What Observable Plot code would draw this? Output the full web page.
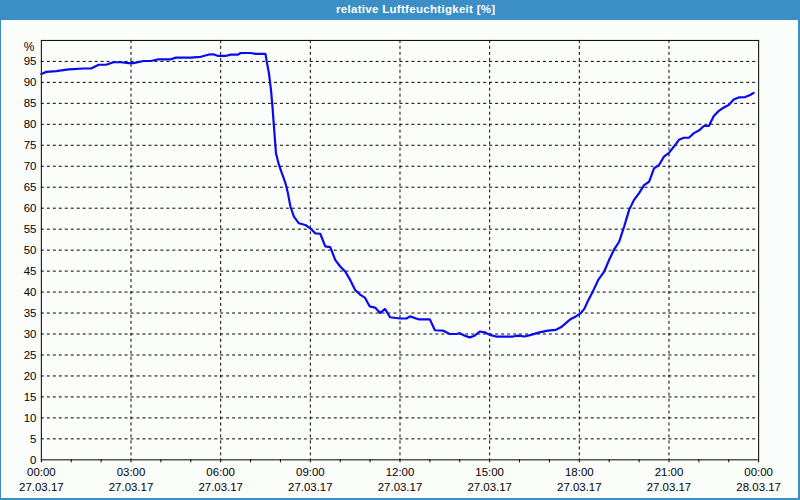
<!DOCTYPE html>
<html>
<head>
<meta charset="utf-8">
<script src="https://cdn.jsdelivr.net/npm/d3@7"></script>
<script src="https://cdn.jsdelivr.net/npm/@observablehq/plot@0.6"></script>
<style>
  html, body { margin: 0; padding: 0; background: #ffffff; }
  #wrap { position: relative; width: 800px; height: 500px; box-sizing: border-box;
          background: #fbfdfb; border-left: 1px solid #3b8fc6; border-right: 2px solid #3b8fc6; border-bottom: 2px solid #3b8fc6; overflow: hidden; }
  #title { position: absolute; left: -1px; top: 0; width: 801px; height: 20px; background: #3b8fc6; }
  #title span { position: absolute; left: 336px; top: 3px; color: #ffffff; font: bold 11.5px "Liberation Sans", Arial, sans-serif; white-space: nowrap; letter-spacing: 0.3px; }
  #chart { position: absolute; left: -1px; top: 21px; }
  svg { overflow: visible; }
</style>
</head>
<body>
<div id="wrap">
  <div id="title"><span>relative Luftfeuchtigkeit [%]</span></div>
  <div id="chart"></div>
</div>
<script>
const chartTitle = "relative Luftfeuchtigkeit [%]";
const day = "2017-03-27";
const times = ["00:00","00:10","00:30","00:55","01:25","01:40","01:55","02:10","02:25","02:40","02:55","03:05","03:25","03:40","03:55","04:20","04:30","05:00","05:20","05:35","05:45","05:55","06:10","06:20","06:35","06:40","07:00","07:10","07:30","07:32","07:37","07:41","07:44","07:47","07:49","07:51","07:57","08:03","08:10","08:15","08:20","08:27","08:37","08:50","09:00","09:10","09:20","09:30","09:40","09:50","10:00","10:10","10:20","10:30","10:40","10:50","10:59","11:10","11:20","11:30","11:40","12:00","12:13","12:20","12:37","13:00","13:10","13:27","13:40","13:54","14:00","14:10","14:20","14:30","14:40","14:50","15:00","15:13","15:47","15:57","16:10","16:23","16:40","16:57","17:13","17:23","17:33","17:43","17:53","18:03","18:10","18:17","18:27","18:38","18:50","19:00","19:10","19:20","19:30","19:40","19:50","20:00","20:10","20:20","20:30","20:40","20:50","21:00","21:10","21:20","21:30","21:40","21:50","22:00","22:10","22:20","22:30","22:40","22:50","23:00","23:10","23:20","23:33","23:43","23:50"];
const humidity = [92.0,92.5,92.7,93.1,93.3,93.3,94.2,94.2,94.8,94.8,94.6,94.6,95.1,95.1,95.5,95.5,95.9,95.9,96.1,96.6,96.7,96.3,96.3,96.6,96.6,97.0,97.0,96.8,96.8,95.3,92.1,88.2,84.2,79.4,76.3,73.1,70.3,68.3,66.0,63.6,60.4,58.0,56.4,56.0,55.2,54.0,53.9,50.9,50.7,47.7,46.1,44.9,42.9,40.5,39.4,38.6,36.6,36.3,35.0,36.0,34.0,33.7,33.7,34.2,33.5,33.5,30.9,30.8,30.0,30.0,30.2,29.6,29.2,29.6,30.6,30.4,29.8,29.4,29.4,29.6,29.4,29.8,30.4,30.8,31.0,31.6,32.6,33.6,34.2,35.0,36.0,37.8,40.1,42.9,44.9,47.7,50.2,52.0,55.6,59.6,62.0,63.6,65.5,66.3,69.5,70.3,72.3,73.2,74.7,76.3,76.8,76.8,77.9,78.5,79.6,79.6,82.0,83.2,84.0,84.6,85.9,86.4,86.5,87.0,87.5];
const yTicks = [0,5,10,15,20,25,30,35,40,45,50,55,60,65,70,75,80,85,90,95];
const yGrid = [5,10,15,20,25,30,35,40,45,50,55,60,65,70,75,80,85,90,95];
const yUnit = "%";

const data = times.map((t, i) => ({ time: new Date(`${day}T${t}:00Z`), value: humidity[i] }));
const start = new Date(`${day}T00:00:00Z`);
const end = new Date("2017-03-28T00:00:00Z");
const ticks3h = d3.utcHour.range(start, new Date(end.getTime() + 1), 3);
const ticks1h = d3.utcHour.range(start, new Date(end.getTime() + 1), 1);
const vGrid = ticks3h.filter(d => d > start && d < end);

const font = '"Liberation Sans", Arial, sans-serif';

const plot = Plot.plot({
  width: 801,
  height: 477,
  marginLeft: 41,
  marginRight: 40,
  marginTop: 19,
  marginBottom: 37,
  style: { fontFamily: font, fontSize: "11.5px", color: "#000", background: "transparent" },
  x: { type: "utc", domain: [start, end] },
  y: { domain: [0, 100] },
  marks: [
    Plot.ruleY(yGrid, { stroke: "#000", strokeWidth: 1, strokeDasharray: "3,3" }),
    Plot.ruleX(vGrid, { stroke: "#000", strokeWidth: 1, strokeDasharray: "3,3" }),
    Plot.frame({ stroke: "#000", strokeWidth: 1 }),
    Plot.axisY({ ticks: yTicks, tickSize: 0, tickPadding: 5, label: null, fill: "#000" }),
    Plot.text([yUnit], { frameAnchor: "top-left", dx: -7, dy: 2, textAnchor: "end", fill: "#000", fontSize: 12 }),
    Plot.axisX({ ticks: ticks1h, tickSize: 3, tickFormat: () => "", label: null, stroke: "#000" }),
    Plot.axisX({ ticks: ticks3h, tickSize: 0, tickPadding: 8, tickFormat: d3.utcFormat("%H:%M"), label: null, fill: "#000" }),
    Plot.axisX({ ticks: ticks3h, tickSize: 0, tickPadding: 23, tickFormat: d3.utcFormat("%d.%m.%y"), label: null, fill: "#000" }),
    Plot.line(data, { x: "time", y: "value", stroke: "#0a0aee", strokeWidth: 2.2, strokeLinejoin: "miter" })
  ]
});
document.getElementById("chart").appendChild(plot);
</script>
</body>
</html>
